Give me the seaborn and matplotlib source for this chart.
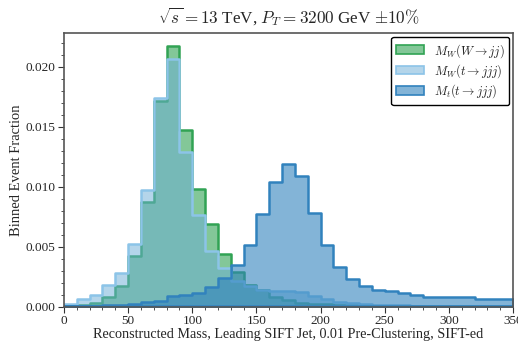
import numpy as np
import pandas as pd
import seaborn as sns
import matplotlib.pyplot as plt
from matplotlib.ticker import MultipleLocator

# bin edges: 0..350 GeV in steps of 10
bin_edges = list(range(0, 360, 10))

# binned event fractions
w_mass_w = [0.00005, 0.0001, 0.0003, 0.00083, 0.0017, 0.0042, 0.00875, 0.0171,
            0.0217, 0.0147, 0.0098, 0.0069, 0.0044, 0.0029, 0.0018, 0.0014,
            0.00078, 0.00053, 0.00033, 0.00022, 0.00018, 0.00014, 0.0001,
            0.00007, 0.00005, 0, 0, 0, 0, 0, 0, 0, 0, 0, 0]
w_mass_top = [0.0002, 0.0006, 0.001, 0.0018, 0.0028, 0.0052, 0.0097, 0.0174,
              0.0206, 0.0129, 0.0076, 0.0046, 0.0032, 0.0021, 0.0017, 0.0014,
              0.0013, 0.0013, 0.00117, 0.0009, 0.0006, 0.0004, 0.0003, 0.0002,
              0.00015, 0.00012, 0.0001, 0.00008, 0.00007, 0.00006, 0.00005,
              0.00005, 0.00004, 0.00004, 0.00003]
t_mass_top = [0.00005, 0.00005, 0.00005, 0.0001, 0.0001, 0.0002, 0.00035,
              0.0005, 0.00085, 0.00095, 0.0011, 0.0016, 0.0024, 0.0035, 0.0051,
              0.0077, 0.0104, 0.0119, 0.0109, 0.0078, 0.0051, 0.0033, 0.0023,
              0.0017, 0.0014, 0.0013, 0.0011, 0.00095, 0.00083, 0.0008,
              0.00077, 0.00077, 0.0006, 0.0006, 0.0006]

labels = [r"$M_W(W\rightarrow jj)$", r"$M_W(t\rightarrow jjj)$",
          r"$M_t(t\rightarrow jjj)$"]

sns.set_style("ticks")
plt.rcParams["font.family"] = ["Liberation Serif", "DejaVu Serif"]
plt.rcParams["mathtext.fontset"] = "cm"

centers = np.array(bin_edges[:-1]) + 5
df = pd.DataFrame({
    "mass": np.tile(centers, 3),
    "frac": w_mass_w + w_mass_top + t_mass_top,
    "sample": np.repeat(labels, len(centers)),
})

styles = [
    ("#31a354", (0.19, 0.64, 0.33, 0.6)),
    ("#8cc4e8", (0.42, 0.68, 0.84, 0.5)),
    ("#3182bd", (0.19, 0.51, 0.74, 0.6)),
]

fig = plt.figure(figsize=(5.18, 3.41), dpi=100)
ax = fig.add_axes([64 / 518, 1 - 306.5 / 341, 449 / 518, 273.5 / 341])

for lab, (edge, face) in zip(labels, styles):
    sub = df[df["sample"] == lab]
    sns.histplot(data=sub, x="mass", weights="frac", bins=bin_edges,
                 element="step", fill=True, ax=ax, label=lab,
                 edgecolor=edge, facecolor=face, linewidth=1.8)

ax.set_xlim(0, 350)
ax.set_ylim(0, 0.0228)
ax.xaxis.set_major_locator(MultipleLocator(50))
ax.xaxis.set_minor_locator(MultipleLocator(10))
ax.yaxis.set_major_locator(MultipleLocator(0.005))
ax.yaxis.set_minor_locator(MultipleLocator(0.001))
ax.yaxis.set_major_formatter(plt.FormatStrFormatter("%.3f"))
ax.tick_params(which="both", direction="out", labelsize=9.5, color="#333333",
               pad=2)
ax.tick_params(which="major", length=4)
ax.tick_params(which="minor", length=2)
for sp in ax.spines.values():
    sp.set_visible(True)
    sp.set_color("#555555")
    sp.set_linewidth(1.2)

ax.set_xlabel("Reconstructed Mass, Leading SIFT Jet, 0.01 Pre-Clustering, SIFT-ed",
              fontsize=10.2, labelpad=1)
ax.set_ylabel("Binned Event Fraction", fontsize=10.5, labelpad=2)
ax.set_title(r"$\sqrt{s} = 13$ TeV, $P_T = 3200$ GeV $\pm 10\%$", fontsize=12.3,
             pad=7)

leg = ax.legend(loc="upper right", fontsize=9, frameon=True, fancybox=True,
                edgecolor="black", framealpha=1, handlelength=2.2,
                labelspacing=0.2, borderaxespad=0.3)
leg.get_frame().set_linewidth(1.0)
for h in leg.legend_handles:
    h.set_linewidth(1.2)

fig.savefig("out.png", dpi=100)
